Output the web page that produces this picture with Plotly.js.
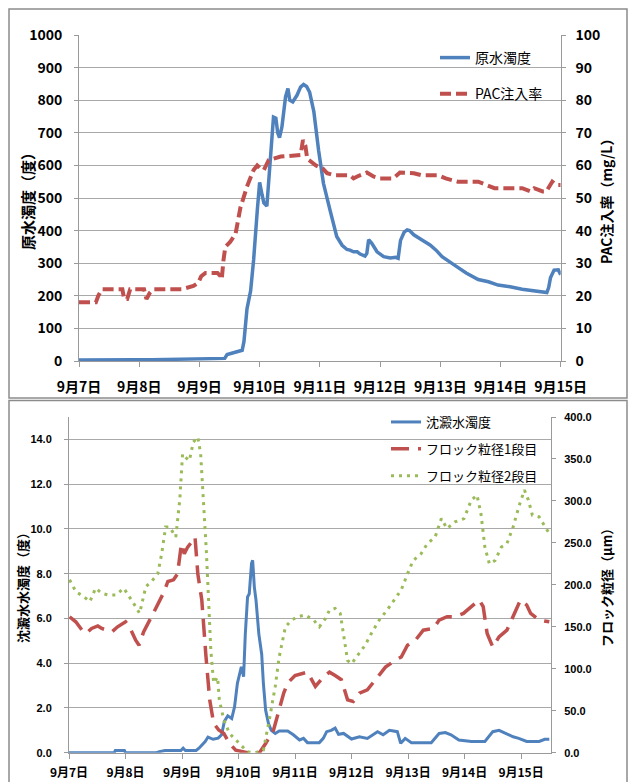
<!DOCTYPE html>
<html>
<head>
<meta charset="utf-8">
<script src="https://cdn.plot.ly/plotly-3.0.1.min.js"></script>
<style>
  html, body { margin: 0; padding: 0; background: #ffffff; }
  #chart { width: 628px; height: 782px; }
</style>
</head>
<body>
<div id="chart"></div>
<script>
// ---------- tick labels ----------
const dayTickVals = [0, 1, 2, 3, 4, 5, 6, 7, 8];
const dayTickText = ["9月7日", "9月8日", "9月9日", "9月10日", "9月11日", "9月12日", "9月13日", "9月14日", "9月15日"];

// ---------- top panel: 原水濁度 (度), days from 9/7 0:00 ----------
const turbDay = [
  0.00, 0.30, 0.60, 0.90, 1.20, 1.50, 1.80, 2.10, 2.30, 2.42,
  2.46, 2.54, 2.62, 2.71, 2.74, 2.79, 2.85, 2.90, 2.96, 3.00,
  3.04, 3.07, 3.12, 3.18, 3.23, 3.27, 3.30, 3.33, 3.37, 3.43,
  3.47, 3.50, 3.55, 3.62, 3.68, 3.73, 3.78, 3.83, 3.90, 3.98,
  4.06, 4.17, 4.28, 4.37, 4.45, 4.50, 4.56, 4.62, 4.67, 4.75,
  4.78, 4.81, 4.86, 4.95, 5.06, 5.17, 5.26, 5.30, 5.34, 5.40,
  5.45, 5.49, 5.56, 5.69, 5.83, 5.93, 6.03, 6.23, 6.43, 6.63,
  6.80, 6.96, 7.16, 7.36, 7.50, 7.70, 7.77, 7.80, 7.83, 7.89,
  7.96, 8.00
];
const turbVal = [
  3, 4, 5, 4, 4, 5, 5, 7, 8, 8,
  20, 24, 26, 33, 60, 160, 215, 310, 460, 548,
  510, 485, 475, 610, 748, 745, 700, 685, 718, 810,
  836, 800, 795, 815, 840, 848, 842, 825, 765, 645,
  545, 462, 382, 355, 342, 340, 335, 335, 328, 322,
  330, 372, 362, 335, 320, 316, 318, 315, 370, 395,
  402, 400, 387, 372, 356, 340, 320, 295, 270, 250,
  243, 233, 228, 220, 216, 210, 210, 225, 255, 279,
  280, 265
];

// ---------- top panel: PAC注入率 (mg/L) ----------
const pacDay = [
  0.00, 0.28, 0.32, 0.38, 0.72, 0.75, 0.80, 0.85, 1.08, 1.12,
  1.18, 1.23, 1.70, 1.90, 1.98, 2.03, 2.10, 2.30, 2.35, 2.37,
  2.40, 2.43, 2.51, 2.60, 2.68, 2.79, 2.90, 2.96, 3.02, 3.07,
  3.15, 3.35, 3.68, 3.72, 3.76, 3.79, 3.83, 3.93, 4.05, 4.12,
  4.23, 4.50, 4.56, 4.62, 4.78, 4.89, 5.00, 5.22, 5.33, 5.40,
  5.56, 5.69, 5.96, 6.09, 6.29, 6.63, 6.76, 6.90, 7.36, 7.50,
  7.56, 7.70, 7.76, 7.86, 7.93, 8.00
];
const pacVal = [
  18, 18, 20, 22, 22, 19, 19, 22, 22, 19,
  21, 22, 22, 23, 24, 26, 27, 27, 26, 25,
  31, 35, 36.5, 39, 47, 53.5, 58.6, 60, 59, 58.6,
  61.6, 62.7, 63.2, 67.8, 66, 62, 61.5, 60, 59, 57.6,
  57, 57, 56, 56.6, 57.8, 56.6, 56, 56, 57.8, 57.8,
  57.6, 57, 57, 56, 55, 55, 54, 53, 53, 52,
  53, 52, 52, 55, 54, 54
];

// ---------- bottom panel: 沈澱水濁度 (度) ----------
const settDay = [
  0.00, 0.80, 0.82, 0.98, 1.00, 1.55, 1.60, 1.70, 1.98, 2.02,
  2.06, 2.25, 2.30, 2.41, 2.46, 2.55, 2.64, 2.70, 2.75, 2.81,
  2.88, 2.93, 2.98, 3.02, 3.05, 3.09, 3.12, 3.16, 3.19, 3.23,
  3.25, 3.28, 3.31, 3.36, 3.41, 3.44, 3.48, 3.53, 3.58, 3.65,
  3.72, 3.87, 3.97, 4.08, 4.15, 4.22, 4.43, 4.50, 4.56, 4.64,
  4.71, 4.77, 4.86, 5.00, 5.14, 5.28, 5.46, 5.56, 5.67, 5.81,
  5.87, 5.95, 6.06, 6.41, 6.55, 6.66, 6.76, 6.90, 7.12, 7.36,
  7.50, 7.61, 7.72, 7.86, 7.96, 8.10, 8.32, 8.42, 8.50
];
const settVal = [
  0, 0, 0.1, 0.1, 0, 0, 0.05, 0.1, 0.1, 0.2,
  0.1, 0.1, 0.2, 0.5, 0.7, 0.6, 0.65, 0.8, 1.4, 1.65,
  1.53, 2.05, 3.1, 3.54, 3.84, 3.4, 5.3, 6.96, 7.1, 8.45,
  8.6, 7.4, 6.8, 5.3, 4.4, 3.1, 1.9, 1.3, 1.0, 0.86,
  0.97, 0.97, 0.8, 0.57, 0.64, 0.45, 0.45, 0.64, 0.94, 1.0,
  1.1, 0.82, 0.86, 0.61, 0.71, 0.64, 0.94, 0.8, 1.0, 0.94,
  0.42, 0.64, 0.45, 0.45, 0.86, 0.9, 0.8, 0.57, 0.5, 0.5,
  0.94, 1.0, 0.86, 0.71, 0.64, 0.5, 0.5, 0.6, 0.6
];

// ---------- bottom panel: フロック粒径1段目 (μm) ----------
const floc1Day = [
  0.01, 0.12, 0.23, 0.30, 0.40, 0.51, 0.58, 0.69, 0.76, 0.86,
  1.00, 1.07, 1.18, 1.24, 1.32, 1.46, 1.60, 1.67, 1.75, 1.85,
  1.92, 1.99, 2.04, 2.10, 2.17, 2.23, 2.28, 2.35, 2.42, 2.49,
  2.56, 2.65, 2.74, 2.84, 2.95, 3.16, 3.37, 3.48, 3.62, 3.72,
  3.80, 3.87, 4.00, 4.22, 4.36, 4.50, 4.61, 4.71, 4.82, 4.93,
  5.03, 5.14, 5.28, 5.46, 5.60, 5.77, 5.88, 5.99, 6.13, 6.27,
  6.45, 6.55, 6.69, 6.83, 6.98, 7.12, 7.26, 7.33, 7.40, 7.50,
  7.61, 7.75, 7.89, 7.99, 8.10, 8.17, 8.32, 8.46, 8.50
];
const floc1Val = [
  162, 156, 146, 142, 148, 151, 148, 146, 144, 150,
  156, 150, 134, 128, 144, 162, 182, 190, 204, 206,
  213, 249, 237, 245, 251, 257, 213, 182, 118, 63,
  35, 27, 23, 11, 3, 0, 0, 11, 27, 51,
  71, 83, 92, 96, 79, 90, 96, 92, 87, 63,
  61, 71, 75, 90, 102, 110, 114, 128, 134, 146,
  148, 158, 162, 162, 166, 174, 182, 174, 142, 126,
  138, 146, 166, 182, 176, 166, 158, 156, 156
];

// ---------- bottom panel: フロック粒径2段目 (μm) ----------
const floc2Day = [
  0.01, 0.12, 0.26, 0.37, 0.47, 0.58, 0.69, 0.83, 0.97, 1.07,
  1.18, 1.25, 1.36, 1.46, 1.57, 1.64, 1.71, 1.78, 1.89, 1.96,
  2.01, 2.06, 2.13, 2.20, 2.28, 2.33, 2.38, 2.43, 2.47, 2.51,
  2.56, 2.63, 2.66, 2.74, 2.84, 2.95, 3.05, 3.16, 3.30, 3.44,
  3.55, 3.65, 3.72, 3.83, 3.94, 4.04, 4.18, 4.33, 4.43, 4.54,
  4.61, 4.71, 4.80, 4.93, 5.00, 5.14, 5.24, 5.35, 5.49, 5.63,
  5.77, 5.88, 5.99, 6.09, 6.23, 6.34, 6.48, 6.59, 6.69, 6.83,
  6.99, 7.12, 7.22, 7.29, 7.36, 7.44, 7.54, 7.65, 7.75, 7.86,
  7.96, 8.06, 8.13, 8.20, 8.32, 8.42, 8.50
];
const floc2Val = [
  206, 192, 186, 180, 196, 190, 188, 188, 196, 186,
  174, 166, 198, 204, 213, 237, 269, 269, 257, 301,
  356, 352, 348, 370, 376, 356, 301, 241, 182, 122,
  83, 90, 63, 39, 23, 15, 9, 1, 0, 3,
  41, 79, 114, 150, 158, 162, 164, 158, 150, 160,
  170, 172, 166, 110, 106, 118, 128, 142, 158, 170,
  184, 194, 213, 229, 237, 249, 257, 279, 267, 275,
  279, 301, 307, 285, 245, 225, 229, 245, 249, 269,
  293, 313, 301, 283, 281, 269, 261
];

// ---------- axis titles ----------
const topLeftTitle = '原水濁度（度）';
const topRightTitle = 'PAC注入率（mg/L）';
const botLeftTitle = '沈澱水水濁度（度）';
const botRightTitle = 'フロック粒径（μm）';

// ---------- layout helpers (pixel -> paper) ----------
const W = 628, H = 782;
const px = v => v / W;
const py = v => 1 - v / H;

const NARROW = '"Liberation Sans Narrow", "Arial Narrow", "Noto Sans CJK JP", sans-serif';
const SANS = '"Liberation Sans", Arial, "Noto Sans CJK JP", sans-serif';
const CJK = '"Noto Sans CJK JP", "Liberation Sans", sans-serif';
const GRID = '#a9a9a9';
const AXIS = '#9a9a9a';

const BLUE = '#4f81bd', RED = '#c0504d', GREEN = '#9bbb59';

const traces = [
  { x: turbDay, y: turbVal, name: '原水濁度', type: 'scatter', mode: 'lines',
    xaxis: 'x', yaxis: 'y', legend: 'legend', legendgroup: 'a',
    line: { color: BLUE, width: 3.5 } },
  { x: pacDay, y: pacVal, name: 'PAC注入率', type: 'scatter', mode: 'lines',
    xaxis: 'x', yaxis: 'y2', legend: 'legend', legendgroup: 'b',
    line: { color: RED, width: 4, dash: '11px,5px' } },
  { x: settDay, y: settVal, name: '沈澱水濁度', type: 'scatter', mode: 'lines',
    xaxis: 'x2', yaxis: 'y3', legend: 'legend2', legendgroup: 'c',
    line: { color: BLUE, width: 3 } },
  { x: floc1Day, y: floc1Val, name: 'フロック粒径1段目', type: 'scatter', mode: 'lines',
    xaxis: 'x2', yaxis: 'y4', legend: 'legend2', legendgroup: 'd',
    line: { color: RED, width: 3.5, dash: '18px,9px' } },
  { x: floc2Day, y: floc2Val, name: 'フロック粒径2段目', type: 'scatter', mode: 'lines',
    xaxis: 'x2', yaxis: 'y4', legend: 'legend2', legendgroup: 'e',
    line: { color: GREEN, width: 3, dash: '3px,5px' } }
];

const titleFont = (s) => ({ family: CJK, size: s, weight: 'bold', color: '#000' });

const layout = {
  width: W, height: H,
  margin: { l: 0, r: 0, t: 0, b: 0, pad: 0 },
  paper_bgcolor: '#ffffff',
  plot_bgcolor: 'rgba(0,0,0,0)',
  font: { family: CJK, color: '#000000' },
  // ---- top panel ----
  xaxis: {
    domain: [px(79), px(560.7)], anchor: 'y', range: [0, 8],
    tickmode: 'array', tickvals: dayTickVals, ticktext: dayTickText,
    showgrid: false, zeroline: false, showline: true, linecolor: AXIS, linewidth: 1,
    ticks: 'outside', ticklen: 5, tickcolor: AXIS, ticklabelstandoff: 8,
    tickfont: { family: NARROW, size: 14, weight: 'bold', color: '#000' }
  },
  yaxis: {
    domain: [py(361), py(35)], anchor: 'x', range: [0, 1000], dtick: 100, tick0: 0,
    showgrid: true, gridcolor: GRID, gridwidth: 1, zeroline: false,
    showline: true, linecolor: AXIS, linewidth: 1,
    ticks: 'outside', ticklen: 4, tickcolor: AXIS, ticklabelstandoff: 9,
    tickfont: { family: NARROW, size: 14, weight: 'bold', color: '#000' }
  },
  yaxis2: {
    overlaying: 'y', side: 'right', anchor: 'x', range: [0, 100], dtick: 10, tick0: 0,
    showgrid: false, zeroline: false, showline: true, linecolor: AXIS, linewidth: 1,
    ticks: 'outside', ticklen: 4, tickcolor: AXIS, ticklabelstandoff: 7,
    tickfont: { family: NARROW, size: 14, weight: 'bold', color: '#000' }
  },
  // ---- bottom panel ----
  xaxis2: {
    domain: [px(69), px(551)], anchor: 'y3', range: [0, 8.53],
    tickmode: 'array', tickvals: dayTickVals, ticktext: dayTickText,
    showgrid: false, zeroline: false, showline: true, linecolor: AXIS, linewidth: 1,
    ticks: 'outside', ticklen: 5, tickcolor: AXIS, ticklabelstandoff: 4,
    tickfont: { family: NARROW, size: 12, weight: 'bold', color: '#000' }
  },
  yaxis3: {
    domain: [py(752.7), py(417)], anchor: 'x2', range: [0, 15],
    tickmode: 'array', tickvals: [0, 2, 4, 6, 8, 10, 12, 14], tickformat: '.1f',
    showgrid: true, gridcolor: GRID, gridwidth: 1, zeroline: false,
    showline: true, linecolor: AXIS, linewidth: 1,
    ticks: 'outside', ticklen: 4, tickcolor: AXIS, ticklabelstandoff: 10,
    tickfont: { family: SANS, size: 11, weight: 'bold', color: '#000' }
  },
  yaxis4: {
    overlaying: 'y3', side: 'right', anchor: 'x2', range: [0, 400], dtick: 50, tick0: 0,
    tickformat: '.1f',
    showgrid: false, zeroline: false, showline: true, linecolor: AXIS, linewidth: 1,
    ticks: 'outside', ticklen: 4, tickcolor: AXIS, ticklabelstandoff: 6,
    tickfont: { family: SANS, size: 11, weight: 'bold', color: '#000' }
  },
  legend: {
    x: px(435), y: py(42), xanchor: 'left', yanchor: 'top',
    bgcolor: 'rgba(0,0,0,0)', borderwidth: 0, tracegroupgap: 15,
    traceorder: 'grouped',
    font: { family: CJK, size: 14, color: '#000' }
  },
  legend2: {
    x: px(386), y: py(407), xanchor: 'left', yanchor: 'top',
    bgcolor: 'rgba(0,0,0,0)', borderwidth: 0, tracegroupgap: 7,
    traceorder: 'grouped',
    font: { family: CJK, size: 13, color: '#000' }
  },
  showlegend: true,
  annotations: [
    { text: topLeftTitle, xref: 'paper', yref: 'paper', x: px(27), y: py(198),
      xanchor: 'center', yanchor: 'middle', textangle: -90, showarrow: false, font: titleFont(15) },
    { text: topRightTitle, xref: 'paper', yref: 'paper', x: px(606), y: py(198),
      xanchor: 'center', yanchor: 'middle', textangle: -90, showarrow: false, font: titleFont(14) },
    { text: botLeftTitle, xref: 'paper', yref: 'paper', x: px(22), y: py(585),
      xanchor: 'center', yanchor: 'middle', textangle: -90, showarrow: false, font: titleFont(13) },
    { text: botRightTitle, xref: 'paper', yref: 'paper', x: px(606), y: py(585),
      xanchor: 'center', yanchor: 'middle', textangle: -90, showarrow: false, font: titleFont(13) }
  ],
  shapes: [
    { type: 'rect', xref: 'paper', yref: 'paper', layer: 'below',
      x0: px(9), x1: px(627), y0: py(398), y1: py(9),
      line: { color: '#8c8c8c', width: 1.5 }, fillcolor: 'rgba(0,0,0,0)' },
    { type: 'rect', xref: 'paper', yref: 'paper', layer: 'below',
      x0: px(9), x1: px(627), y0: py(795), y1: py(400.5),
      line: { color: '#8c8c8c', width: 1.5 }, fillcolor: 'rgba(0,0,0,0)' }
  ]
};

Plotly.newPlot('chart', traces, layout, { displayModeBar: false, responsive: false });
</script>
</body>
</html>
